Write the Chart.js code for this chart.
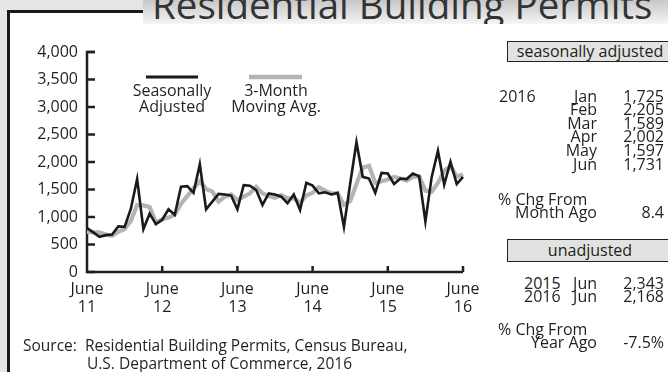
<!DOCTYPE html>
<html>
<head>
<meta charset="utf-8">
<script src="https://cdn.jsdelivr.net/npm/chart.js@4.4.1/dist/chart.umd.min.js"></script>
<style>
  html, body { margin: 0; padding: 0; }
  body {
    position: relative; width: 668px; height: 372px; overflow: hidden;
    background: #e5e5e7; font-family: "Open Sans", sans-serif; color: #231f20;
  }
  .panel {
    position: absolute; left: 7px; top: 10px; width: 700px; height: 400px;
    background: #fff; border-left: 3px solid #1a1a1a; border-top: 3px solid #1a1a1a;
    box-sizing: border-box;
  }
  .title {
    position: absolute; left: 143px; top: 0; width: 540px; height: 24px; overflow: hidden;
    background: linear-gradient(to bottom, #c8c8ca 0%, #e4e4e5 65%, #f6f6f6 100%);
  }
  .title span {
    position: absolute; left: 9px; top: -15px; font-size: 38.5px; line-height: 38px;
    color: #333; white-space: nowrap;
  }
  #chart-wrap { position: absolute; left: 0; top: 0; width: 500px; height: 372px; }
  .t { position: absolute; font-size: 16px; line-height: 15px; white-space: nowrap; }
  .box {
    position: absolute; left: 507px; width: 166px; box-sizing: border-box;
    border: 1.5px solid #222; background: #e2e2e2; text-align: center;
    font-size: 16px; white-space: nowrap;
  }
  .source { position: absolute; left: 23px; top: 336px; font-size: 15.5px; line-height: 18px; }
  .source div { white-space: nowrap; }
</style>
</head>
<body>
<div class="panel"></div>
<div class="title"><span>Residential Building Permits</span></div>
<div id="chart-wrap"><canvas id="permits-chart"></canvas></div>
<div class="box" style="top:41px;height:21px;line-height:18px;">seasonally adjusted</div>
<div class="box" style="top:239px;height:23px;line-height:20px;">unadjusted</div>
<div id="table"></div>
<div class="source">
  <div>Source:&nbsp; Residential Building Permits, Census Bureau,</div>
  <div style="padding-left:64px">U.S. Department of Commerce, 2016</div>
</div>

<script>
// Side table values
const saYear = "2016";
const saMonths = ["Jan", "Feb", "Mar", "Apr", "May", "Jun"];
const saValues = [1725, 2205, 1589, 2002, 1597, 1731];
const saChange = "8.4";
const unadjYears = ["2015", "2016"];
const unadjMonths = ["Jun", "Jun"];
const unadjValues = [2343, 2168];
const unadjChange = "-7.5%";

// Monthly series, June 2011 .. June 2016 (last six months come from the table)
const seasAdj = [
    800, 720, 640, 670, 680, 830, 820, 1150, 1690, 780,
    1060, 870, 950, 1140, 1040, 1550, 1560, 1440, 1960, 1140,
    1280, 1420, 1410, 1390, 1140, 1580, 1570, 1490, 1220, 1430,
    1410, 1370, 1250, 1410, 1130, 1620, 1570, 1430, 1450, 1410,
    1440, 820, 1610, 2360, 1730, 1700, 1440, 1800, 1790, 1600,
    1700, 1690, 1790, 1740, 920,
    ...saValues,
];
const movingAvg = [
    730, 720, 720, 680, 660, 730, 780, 930, 1220, 1210,
    1180, 900, 960, 990, 1040, 1240, 1380, 1520, 1650, 1510,
    1460, 1280, 1370, 1410, 1310, 1370, 1430, 1550, 1430, 1380,
    1350, 1400, 1340, 1340, 1260, 1390, 1440, 1540, 1480, 1430,
    1430, 1220, 1290, 1600, 1900, 1930, 1620, 1650, 1680, 1730,
    1700, 1660, 1730, 1740, 1480, 1460, 1620, 1840, 1930, 1730, 1780,
];
const seriesNames = [["Seasonally", "Adjusted"], ["3-Month", "Moving Avg."]];
const tickYears = ["11", "12", "13", "14", "15", "16"];

const monthNames = ["Jan", "Feb", "Mar", "Apr", "May", "Jun", "Jul", "Aug", "Sep", "Oct", "Nov", "Dec"];
const months = [];
for (let i = 0; i < seasAdj.length; i++) {
    const m = 5 + i;
    months.push(monthNames[m % 12] + " " + (2011 + Math.floor(m / 12)));
}

const INK = "#231f20";
const fmt = (v) => v.toLocaleString("en-US");

// ---- side table ----
function put(text, cy, opts) {
    const el = document.createElement("div");
    el.className = "t";
    el.textContent = text;
    el.style.top = (cy - 7.5) + "px";
    if (opts.left != null) el.style.left = opts.left + "px";
    if (opts.right != null) el.style.right = (668 - opts.right) + "px";
    document.getElementById("table").appendChild(el);
}

put(saYear, 96, { left: 499 });
saMonths.forEach((m, i) => {
    const cy = 96 + i * 13.6;
    put(m, cy, { right: 597 });
    put(fmt(saValues[i]), cy, { right: 664 });
});
put("% Chg From", 199, { left: 498 });
put("Month Ago", 212.5, { right: 597 });
put(saChange, 212.5, { right: 664 });

unadjYears.forEach((yr, i) => {
    const cy = 283 + i * 13.6;
    put(yr, cy, { left: 524 });
    put(unadjMonths[i], cy, { right: 597 });
    put(fmt(unadjValues[i]), cy, { right: 664 });
});
put("% Chg From", 329, { left: 498 });
put("Year Ago", 342.5, { right: 597 });
put(unadjChange, 342.5, { right: 664 });

// ---- chart ----

// axis lines with inward tick marks
const axisFrame = {
    id: "axisFrame",
    beforeDatasetsDraw(chart) {
        const { ctx, chartArea: a, scales: { x, y } } = chart;
        ctx.save();
        ctx.strokeStyle = INK;
        ctx.lineWidth = 2.5;
        ctx.lineJoin = "miter";
        ctx.beginPath();
        ctx.moveTo(a.left + 8, a.top);
        ctx.lineTo(a.left, a.top);
        ctx.lineTo(a.left, a.bottom);
        ctx.lineTo(a.right, a.bottom);
        ctx.stroke();
        ctx.beginPath();
        y.ticks.forEach((t) => {
            const py = y.getPixelForValue(t.value);
            ctx.moveTo(a.left, py);
            ctx.lineTo(a.left + 8, py);
        });
        months.forEach((m, i) => {
            if (i > 0 && m.startsWith("Jun")) {
                const px = x.getPixelForValue(i);
                ctx.moveTo(px, a.bottom);
                ctx.lineTo(px, a.bottom - 6);
            }
        });
        ctx.stroke();
        ctx.restore();
    },
};

// legend drawn inside the plot: a line sample over a two-line caption
const inlineLegend = {
    id: "inlineLegend",
    afterDatasetsDraw(chart, args, opts) {
        const { ctx } = chart;
        ctx.save();
        ctx.font = "16px 'Open Sans'";
        ctx.fillStyle = INK;
        ctx.textAlign = "center";
        ctx.textBaseline = "middle";
        opts.items.forEach((item) => {
            const ds = chart.data.datasets[item.dataset];
            ctx.strokeStyle = ds.borderColor;
            ctx.lineWidth = ds.borderWidth + 0.5;
            ctx.beginPath();
            ctx.moveTo(item.x0, opts.y);
            ctx.lineTo(item.x1, opts.y);
            ctx.stroke();
            seriesNames[item.dataset].forEach((line, i) => {
                ctx.fillText(line, item.cx, opts.y + 14 + i * 16);
            });
        });
        ctx.restore();
    },
};

function permitsChart() {
    const ctx = document.getElementById("permits-chart").getContext("2d");

    const config = {
        type: "line",
        data: {
            labels: months,
            datasets: [
                {
                    label: seriesNames[0].join(" "),
                    data: seasAdj,
                    borderColor: "#1a1a1a",
                    borderWidth: 2.6,
                    pointRadius: 0,
                    tension: 0,
                    order: 1,
                },
                {
                    label: seriesNames[1].join(" "),
                    data: movingAvg,
                    borderColor: "#b4b4b6",
                    borderWidth: 4.2,
                    pointRadius: 0,
                    tension: 0,
                    order: 2,
                },
            ],
        },
        options: {
            responsive: true,
            maintainAspectRatio: false,
            animation: false,
            layout: { padding: { left: 0, top: 52, right: 37, bottom: 0 } },
            scales: {
                x: {
                    grid: { display: false, drawTicks: false },
                    border: { display: false },
                    afterFit: (scale) => { scale.height = 100; },
                    ticks: {
                        autoSkip: false,
                        maxRotation: 0,
                        padding: 9,
                        color: INK,
                        font: { family: "Open Sans", size: 16, lineHeight: 1.1 },
                        callback: (value, i) =>
                            months[i].startsWith("Jun") ? ["June", tickYears[(i / 12) | 0]] : null,
                    },
                },
                y: {
                    min: 0,
                    max: 4000,
                    grid: { display: false, drawTicks: false },
                    border: { display: false },
                    afterFit: (scale) => { scale.width = 87; },
                    ticks: {
                        stepSize: 500,
                        padding: 9,
                        color: INK,
                        font: { family: "Open Sans", size: 16 },
                        callback: (v) => fmt(v),
                    },
                },
            },
            plugins: {
                legend: { display: false },
                tooltip: { enabled: false },
                inlineLegend: {
                    y: 77,
                    items: [
                        { dataset: 0, cx: 172, x0: 146, x1: 198 },
                        { dataset: 1, cx: 276, x0: 249, x1: 302 },
                    ],
                },
            },
        },
        plugins: [axisFrame, inlineLegend],
    };

    new Chart(ctx, config);
}

document.fonts.load("16px 'Open Sans'").then(permitsChart, permitsChart);
</script>
</body>
</html>
